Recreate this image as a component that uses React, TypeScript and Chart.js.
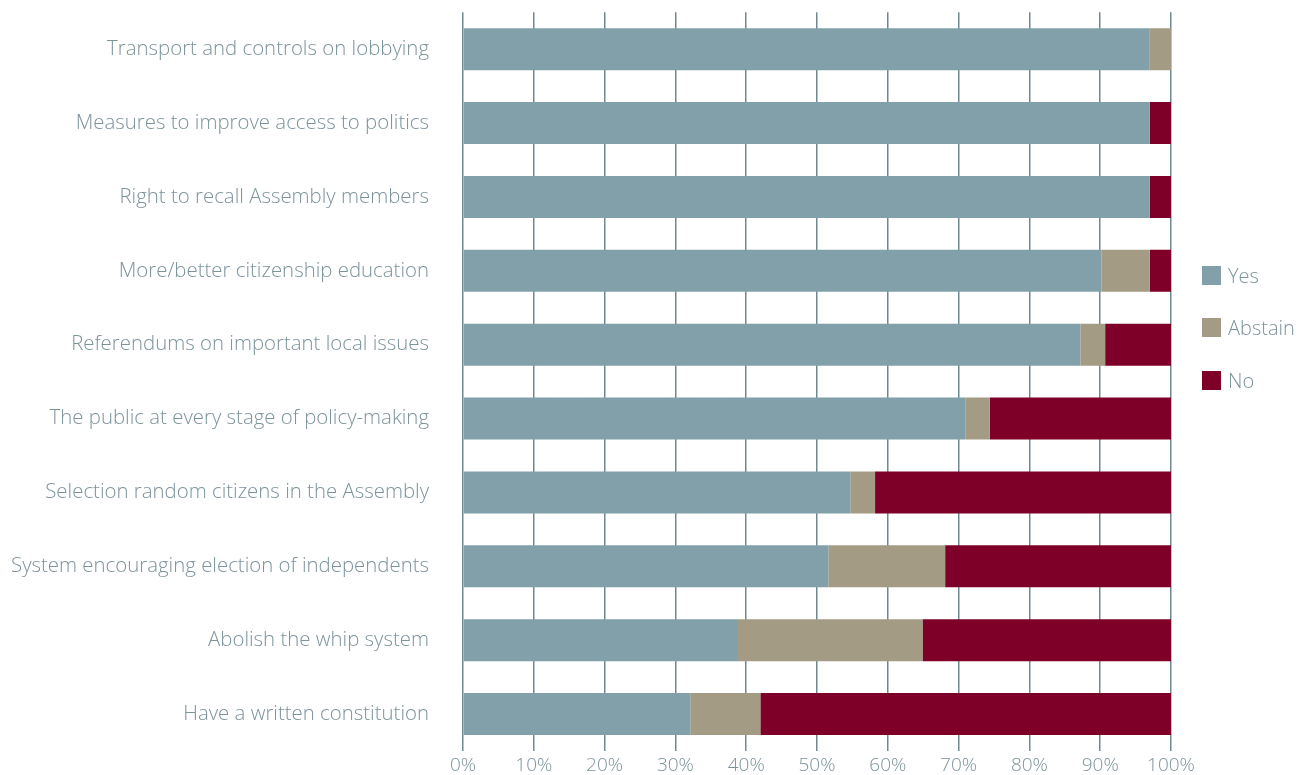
import React, { useEffect, useRef } from "react";
import { Chart, registerables } from "chart.js";

Chart.register(...registerables);

const categories = [
  "Transport and controls on lobbying",
  "Measures to improve access to politics",
  "Right to recall Assembly members",
  "More/better citizenship education",
  "Referendums on important local issues",
  "The public at every stage of policy-making",
  "Selection random citizens in the Assembly",
  "System encouraging election of independents",
  "Abolish the whip system",
  "Have a written constitution",
];
const yesValues = [97, 97, 97, 90.2, 87.2, 71.0, 54.7, 51.6, 38.7, 32.1];
const abstainValues = [3, 0, 0, 6.8, 3.5, 3.4, 3.5, 16.5, 26.2, 9.9];
const noValues = [0, 3, 3, 3.0, 9.3, 25.6, 41.8, 31.9, 35.1, 58.0];
const xTicks = [0, 10, 20, 30, 40, 50, 60, 70, 80, 90, 100];

const seriesNames = ["Yes", "Abstain", "No"];
const colors = ["#81a0a9", "#a39b84", "#7e0028"];
const textColor = "#7c939b";
const gridColor = "#708990";
const FONT = "'Open Sans', sans-serif";

export default function App() {
  const ref = useRef<HTMLCanvasElement | null>(null);

  useEffect(() => {
    document.body.style.margin = "0";
    const ctx = ref.current!;
    const chart = new Chart(ctx, {
      type: "bar",
      data: {
        labels: categories,
        datasets: [yesValues, abstainValues, noValues].map((d, i) => ({
          label: seriesNames[i],
          data: d,
          backgroundColor: colors[i],
          borderWidth: 0,
          categoryPercentage: 1,
          barPercentage: 42 / 74,
        })),
      },
      options: {
        indexAxis: "y",
        responsive: false,
        animation: false,
        maintainAspectRatio: false,
        layout: { padding: { top: 11, right: 136, left: 0, bottom: 0 } },
        plugins: {
          legend: { display: false },
          tooltip: { enabled: false },
        },
        scales: {
          x: {
            stacked: true,
            min: 0,
            max: 100,
            afterBuildTicks: (scale: any) => {
              scale.ticks = xTicks.map((v) => ({ value: v }));
            },
            afterFit: (scale: any) => {
              scale.height = 24;
            },
            border: { display: false },
            grid: {
              color: gridColor,
              lineWidth: 1.5,
              drawTicks: false,
            },
            ticks: {
              padding: 3,
              color: textColor,
              font: { family: FONT, size: 19, weight: 300 },
              callback: (v: any) => v + "%",
            },
          },
          y: {
            stacked: true,
            afterFit: (scale: any) => {
              scale.width = 463;
            },
            border: { display: false },
            grid: { display: false, drawTicks: true, tickLength: 34 },
            ticks: {
              padding: 0,
              color: textColor,
              font: { family: FONT, size: 20.4, weight: 300 },
            },
          },
        },
      },
    });
    return () => chart.destroy();
  }, []);

  const legendTops = [266, 318, 371];

  return (
    <div style={{ position: "relative", width: 1307, height: 775 }}>
      <canvas ref={ref} width={1307} height={775} style={{ display: "block" }} />
      {seriesNames.map((name, i) => (
        <div
          key={name}
          style={{
            position: "absolute",
            left: 1202,
            top: legendTops[i],
            display: "flex",
            alignItems: "center",
            height: 19,
          }}
        >
          <div style={{ width: 19, height: 19, background: colors[i] }} />
          <span
            style={{
              marginLeft: 7,
              fontFamily: FONT,
              fontWeight: 300,
              fontSize: 20,
              color: textColor,
              lineHeight: "19px",
            }}
          >
            {name}
          </span>
        </div>
      ))}
    </div>
  );
}
